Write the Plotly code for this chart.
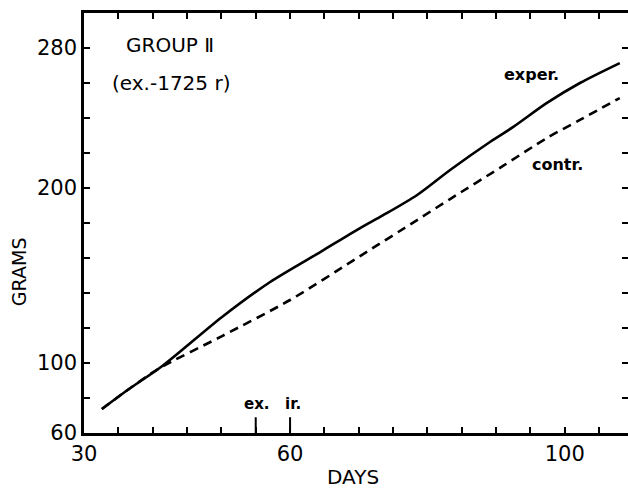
import plotly.graph_objects as go

# Experimental group (solid)
exper_days = [32.6, 36.5, 41.4, 50.1, 57.1, 64.4, 70.2, 73.5, 78.5, 83.3, 89.1, 92.5, 97.4, 102.2, 108.0]
exper_grams = [73.7, 85.0, 98.3, 126.3, 146.3, 163.4, 177.1, 184.3, 196.0, 210.3, 226.3, 234.9, 248.6, 260.0, 271.4]

# Control group (dashed)
contr_days = [32.6, 36.5, 40.8, 50.1, 60.0, 70.2, 78.5, 83.3, 91.0, 97.4, 102.2, 108.0]
contr_grams = [73.7, 85.0, 96.6, 115.4, 136.0, 161.1, 181.7, 193.7, 212.6, 228.6, 238.9, 251.4]

x_tick_vals = list(range(30, 110, 5))
x_tick_labels = {30: "30", 60: "60", 100: "100"}
y_tick_vals = list(range(60, 301, 20))
y_tick_labels = {60: "60", 100: "100", 200: "200", 280: "280"}
irradiation_days = [55, 60]

FONT = "DejaVu Sans"

fig = go.Figure()
fig.add_trace(go.Scatter(x=exper_days, y=exper_grams, mode="lines",
                         line=dict(color="black", width=2.6, shape="spline", smoothing=0.8),
                         name="exper.", showlegend=False))
fig.add_trace(go.Scatter(x=contr_days, y=contr_grams, mode="lines",
                         line=dict(color="black", width=2.6, dash="9px,6px", shape="spline", smoothing=0.8),
                         name="contr.", showlegend=False))

for d in irradiation_days:
    fig.add_shape(type="line", x0=d, x1=d, y0=60, y1=69, xref="x", yref="y",
                  line=dict(color="black", width=2))

annots = [
    dict(x=55.2, y=76.5, text="ex.", size=15, bold=True),
    dict(x=60.4, y=76.5, text="ir.", size=15, bold=True),
    dict(x=95.2, y=265.1, text="exper.", size=16, bold=True),
    dict(x=98.9, y=213.7, text="contr.", size=16, bold=True),
    dict(x=42.5, y=281.7, text="GROUP Ⅱ", size=20, bold=False),
    dict(x=42.7, y=260.0, text="(ex.-1725 r)", size=20, bold=False),
]
for a in annots:
    txt = "<b>%s</b>" % a["text"] if a["bold"] else a["text"]
    fig.add_annotation(x=a["x"], y=a["y"], xref="x", yref="y", text=txt,
                       showarrow=False, font=dict(family=FONT, size=a["size"], color="black"))

# axis titles
fig.add_annotation(x=0, y=0.383, xref="paper", yref="paper", xshift=-65, text="GRAMS",
                   textangle=-90, showarrow=False, xanchor="center", yanchor="middle",
                   font=dict(family=FONT, size=19, color="black"))
fig.add_annotation(x=0.494, y=0, xref="paper", yref="paper", yshift=-44, text="DAYS",
                   showarrow=False, xanchor="center", yanchor="middle",
                   font=dict(family=FONT, size=20, color="black"))

fig.update_layout(
    width=628, height=490,
    margin=dict(l=84, r=0, t=13, b=57, autoexpand=False),
    paper_bgcolor="white", plot_bgcolor="white",
    font=dict(family=FONT, color="black"),
    showlegend=False,
)
fig.update_xaxes(
    range=[30, 109.2], tickmode="array", tickvals=x_tick_vals,
    ticktext=[x_tick_labels.get(v, "") for v in x_tick_vals],
    ticks="inside", ticklen=6, tickwidth=1.6, tickcolor="black",
    showline=True, linecolor="black", linewidth=2.5, mirror="ticks",
    showgrid=False, zeroline=False, automargin=False,
    tickfont=dict(family=FONT, size=21, color="black"),
)
fig.update_yaxes(
    range=[60, 300], tickmode="array", tickvals=y_tick_vals,
    ticktext=[y_tick_labels.get(v, "") for v in y_tick_vals],
    ticks="inside", ticklen=6, tickwidth=1.6, tickcolor="black",
    showline=True, linecolor="black", linewidth=2.5, mirror="ticks",
    showgrid=False, zeroline=False, automargin=False,
    tickfont=dict(family=FONT, size=21, color="black"),
)

fig.write_html("out.html", config={"displayModeBar": False},
               post_script="document.body.style.margin='0';")
